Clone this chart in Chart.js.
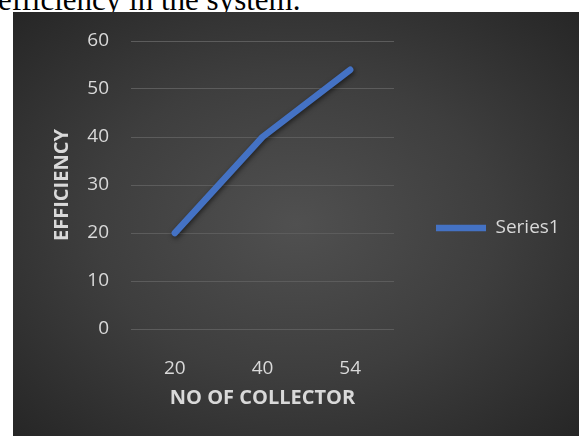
<!DOCTYPE html>
<html>
<head>
<meta charset="utf-8">
<script src="https://cdn.jsdelivr.net/npm/chart.js@4"></script>
<style>
  html, body { margin: 0; padding: 0; background: #fff; width: 579px; height: 436px; overflow: hidden; }
  #caption { position: absolute; left: -2px; top: -16px; font: 31px/31px "Liberation Serif", serif; color: #000; white-space: nowrap; }
  #wrap { position: absolute; left: 13px; top: 12px; width: 566px; height: 424px;
    background: radial-gradient(ellipse at 50% 50%, #505050 0%, #3e3e3e 50%, #262626 100%); }
</style>
</head>
<body>
<div id="caption">efficiency in the system.</div>
<div id="wrap"><canvas id="c" width="566" height="424"></canvas></div>
<script>
// ---------- DATA ----------
const collectors = ["20", "40", "54"];
const efficiency = [20, 40, 54];
const yTicks = [0, 10, 20, 30, 40, 50, 60];
const seriesName = "Series1";

const TXT = "#d9d9d9";
const BLUE = "#4472c4";

// soft drop shadow under the line, like the office style
const lineShadow = {
  id: "lineShadow",
  beforeDatasetsDraw(chart) {
    const ctx = chart.ctx;
    ctx.save();
    ctx.shadowColor = "rgba(0,0,0,0.55)";
    ctx.shadowBlur = 5;
    ctx.shadowOffsetX = 1;
    ctx.shadowOffsetY = 2;
  },
  afterDatasetsDraw(chart) { chart.ctx.restore(); }
};

// legend gets a fixed strip on the right (chart.js caps it at a quarter of the width)
const legendStrip = {
  id: "legendStrip",
  beforeUpdate(chart) {
    const lg = chart.legend;
    if (!lg || lg._stripped) return;
    const fit = lg.fit;
    lg.fit = function () { fit.call(this); this.width = 185; };
    lg._stripped = true;
  }
};

new Chart(document.getElementById("c"), {
  type: "line",
  data: {
    labels: collectors,
    datasets: [{
      label: seriesName,
      data: efficiency,
      borderColor: BLUE,
      backgroundColor: BLUE,
      borderWidth: 6.5,
      borderCapStyle: "round",
      borderJoinStyle: "round",
      pointRadius: 0,
      tension: 0
    }]
  },
  plugins: [lineShadow, legendStrip],
  options: {
    responsive: false,
    animation: false,
    layout: { padding: { left: 0, top: 29, bottom: 21, right: 0 } },
    plugins: {
      tooltip: { enabled: false },
      legend: {
        position: "right",
        labels: {
          color: TXT,
          font: { family: "Open Sans", size: 19 },
          usePointStyle: true,
          pointStyle: "line",
          pointStyleWidth: 50,
          padding: 42
        }
      }
    },
    scales: {
      x: {
        offset: true,
        grid: { display: false },
        border: { display: false },
        ticks: { color: TXT, font: { family: "Open Sans", size: 19 }, padding: 20 },
        title: { display: true, text: "NO OF COLLECTOR", color: TXT,
          font: { family: "Open Sans", size: 20, weight: "bold" }, padding: { top: 0, bottom: 5 } },
        afterFit(s) { s.height = 86; }
      },
      y: {
        min: 0, max: 60,
        afterBuildTicks(s) { s.ticks = yTicks.map(v => ({ value: v })); },
        grid: { color: "#5c5c5c", lineWidth: 1, drawTicks: false },
        border: { display: false },
        ticks: { color: TXT, font: { family: "Open Sans", size: 19 }, padding: 22 },
        title: { display: true, text: "EFFICIENCY", color: TXT,
          font: { family: "Open Sans", size: 20, weight: "bold" }, padding: { top: 37, bottom: 0 } },
        afterFit(s) { s.width = 118; s.paddingTop = 0; s.paddingBottom = 0; }
      }
    }
  }
});
</script>
</body>
</html>
